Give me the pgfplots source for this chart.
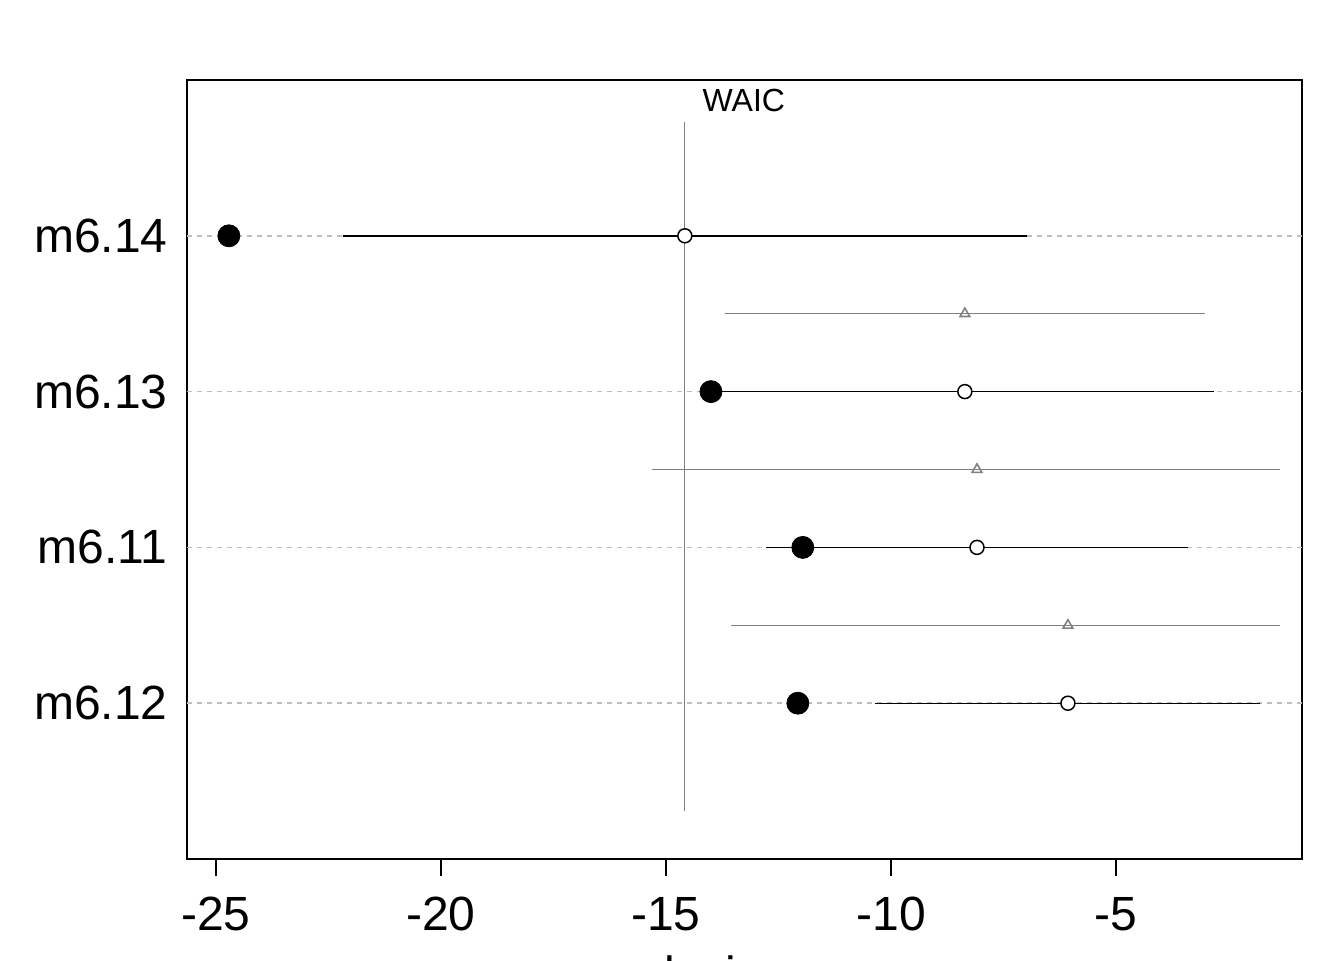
\documentclass[border=0pt]{standalone}
\usepackage{fontspec}
\setmainfont{Liberation Sans}
\usepackage{pgfplots}
\pgfplotsset{compat=1.18}
\usepackage{pgfplotstable}
\definecolor{gridgray}{HTML}{BEBEBE}
\definecolor{rowgray}{HTML}{808080}
% main rows: y, filled (in-sample), open (WAIC), lower, upper
\pgfplotstableread{
y  dev     waic    lo      hi
4  -24.71  -14.58  -22.18  -6.98
3  -14.00  -8.36   -14.00  -2.82
2  -11.96  -8.09   -12.78  -3.40
1  -12.07  -6.07   -10.36  -1.80
}\maintab
% difference rows: y, centre, lower, upper
\pgfplotstableread{
y    mid    lo      hi
3.5  -8.36  -13.69  -3.02
2.5  -8.09  -15.31  -1.36
1.5  -6.07  -13.56  -1.36
}\difftab
\begin{document}
\begin{tikzpicture}
\begin{axis}[
  at={(0,0)}, anchor=south west,
  scale only axis, width=557.5pt, height=389.5pt,
  xmin=-25.64, xmax=-0.87, ymin=0, ymax=5,
  axis line style={line width=1pt},
  xtick={-25,-20,-15,-10,-5},
  xticklabels={-25,-20,-15,-10,-5},
  ytick={1,2,3,4},
  yticklabels={m6.12,m6.11,m6.13,m6.14},
  major tick length=8.5pt,
  tick style={line width=1pt, black},
  y tick style={draw=none},
  tick align=outside, xtick pos=bottom, ytick pos=left,
  ticklabel style={font=\fontsize{24}{28}\selectfont},
  xticklabel style={anchor=north, inner sep=0pt, yshift=-10.5pt},
  yticklabel style={anchor=east, inner sep=0pt, xshift=-1pt},
  minor tick num=0,
  clip=false,
]
% dashed guide lines
\foreach \yy in {1,2,3,4}{
  \edef\tmp{\noexpand\addplot[gridgray, line width=0.8pt, dash pattern=on 2.5pt off 2.5pt, forget plot] coordinates {(-25.64,\yy) (-0.87,\yy)};}
  \tmp
}
% main intervals
\addplot[black, line width=0.7pt] coordinates {(-22.18,4) (-6.98,4)};
\addplot[black, line width=0.7pt] coordinates {(-14.00,3) (-2.82,3)};
\addplot[black, line width=0.7pt] coordinates {(-12.78,2) (-3.40,2)};
\addplot[black, line width=0.7pt] coordinates {(-10.36,1) (-1.80,1)};
% difference intervals
\addplot[rowgray, line width=0.5pt] coordinates {(-13.69,3.5) (-3.02,3.5)};
\addplot[rowgray, line width=0.5pt] coordinates {(-15.31,2.5) (-1.36,2.5)};
\addplot[rowgray, line width=0.5pt] coordinates {(-13.56,1.5) (-1.36,1.5)};
% vertical reference line at best WAIC
\addplot[rowgray, line width=0.5pt] coordinates {(-14.58,0.31) (-14.58,4.73)};
% markers
\addplot[only marks, mark=*, mark size=5.5pt, black] table[x=dev, y=y] {\maintab};
\addplot[only marks, mark=*, mark size=3.5pt, draw=black, fill=white, line width=0.75pt] table[x=waic, y=y] {\maintab};
\addplot[only marks, mark=triangle, mark size=2.8pt, rowgray, line width=0.8pt] table[x=mid, y=y] {\difftab};
\node[font=\fontsize{16}{19}\selectfont] at (axis cs:-13.27,4.87) {WAIC};
\end{axis}
\node[anchor=north, inner sep=0pt, font=\fontsize{24}{28}\selectfont] at (278.75pt,-48pt) {deviance};
\pgfresetboundingbox
\useasboundingbox (-93.5pt,-50.5pt) rectangle (578.5pt,429.5pt);
\end{tikzpicture}
\end{document}
